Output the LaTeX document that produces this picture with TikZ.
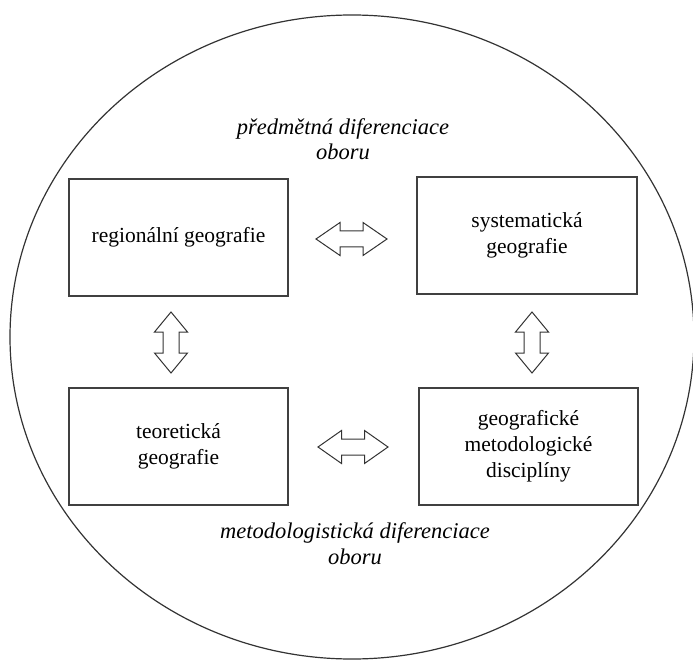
\documentclass[tikz,border=0pt]{standalone}
\usepackage{fontspec}
\setmainfont{Liberation Serif}
\usetikzlibrary{shapes.geometric}
\tikzset{
  box/.style={draw=black!75, line width=1.3pt, align=center, inner sep=0pt,
    font=\fontsize{21.5}{26}\selectfont},
  arrowline/.style={draw=black!80, line width=1pt, line join=miter},
  pics/dblarrow/.style args={#1/#2}{code={
    \draw[arrowline] (-#1,0) -- (-#1+#2,-16.5) -- (-#1+#2,-8) -- (#1-#2,-8) -- (#1-#2,-16.5)
      -- (#1,0) -- (#1-#2,16.5) -- (#1-#2,8) -- (-#1+#2,8) -- (-#1+#2,16.5) -- cycle;}},
  lab/.style={font=\fontsize{22.5}{26}\selectfont\itshape, inner sep=0pt, anchor=base}
}
\begin{document}
\begin{tikzpicture}[x=1pt,y=-1pt]
\useasboundingbox (0,0) rectangle (693,660);
\node[draw=black!80, line width=1.2pt, ellipse, minimum width=684pt, minimum height=644pt, inner sep=0pt] (circ) at (352,337) {};
\node[box, minimum width=219pt, minimum height=117pt] (reg) at (178.5,237.5) {regionální geografie};
\node[box, minimum width=220pt, minimum height=117pt] (sys) at (527,235.5) {systematická\\geografie};
\node[box, minimum width=219pt, minimum height=117pt] (teo) at (178.5,446.5) {teoretická\\geografie};
\node[box, minimum width=219pt, minimum height=117pt] (met) at (528.5,446.5) {geografické\\metodologické\\disciplíny};
\pic (h1) at (351.5,239) {dblarrow={35.5/24}};
\pic (h2) at (353,447) {dblarrow={35/23.5}};
\pic[rotate=90] (v1) at (171,342.5) {dblarrow={30.5/20}};
\pic[rotate=90] (v2) at (532,342.5) {dblarrow={30.5/20}};
\node[lab] (t1) at (343,135) {předmětná diferenciace};
\node[lab] (t2) at (343,160) {oboru};
\node[lab] (b1) at (355,538) {metodologistická diferenciace};
\node[lab] (b2) at (355,564) {oboru};
\end{tikzpicture}
\end{document}
